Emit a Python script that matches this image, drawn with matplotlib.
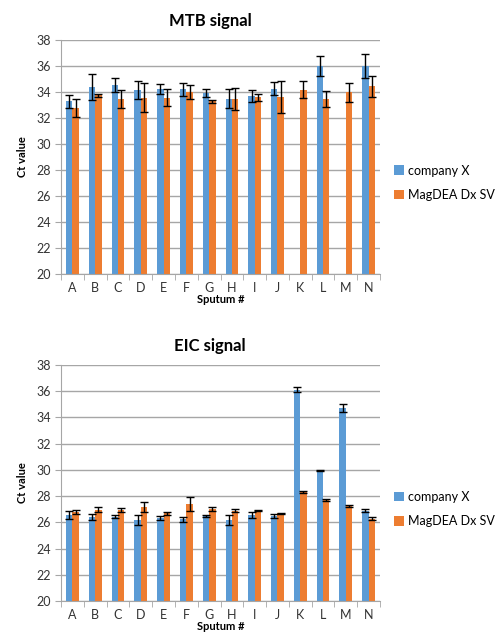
import numpy as np
import matplotlib.pyplot as plt

plt.rcParams['font.family'] = ['Lato', 'DejaVu Sans']

samples = ['A', 'B', 'C', 'D', 'E', 'F', 'G', 'H', 'I', 'J', 'K', 'L', 'M', 'N']
series = ['company X', 'MagDEA Dx SV']

### MTB signal (company X has no value for K and M)
mtb_x = [33.27, 34.38, 34.53, 34.15, 34.23, 34.23, 33.95, 33.5, 33.72, 34.25, np.nan, 36.0, np.nan, 36.0]
mtb_x_err = [0.5, 1.0, 0.55, 0.7, 0.38, 0.5, 0.3, 0.75, 0.47, 0.5, np.nan, 0.8, np.nan, 0.95]
mtb_mag = [32.76, 33.75, 33.47, 33.57, 33.55, 34.0, 33.29, 33.45, 33.6, 33.6, 34.18, 33.47, 33.97, 34.43]
mtb_mag_err = [0.7, 0.1, 0.7, 1.1, 0.65, 0.55, 0.1, 0.85, 0.28, 1.25, 0.65, 0.6, 0.72, 0.8]

### EIC signal
eic_x = [26.55, 26.4, 26.43, 26.15, 26.3, 26.23, 26.48, 26.15, 26.55, 26.45, 36.13, 29.95, 34.72, 26.88]
eic_x_err = [0.3, 0.2, 0.1, 0.38, 0.15, 0.2, 0.05, 0.38, 0.2, 0.15, 0.2, 0.05, 0.33, 0.1]
eic_mag = [26.78, 26.95, 26.95, 27.15, 26.68, 27.4, 27.05, 26.9, 26.9, 26.68, 28.3, 27.68, 27.25, 26.28]
eic_mag_err = [0.15, 0.2, 0.18, 0.4, 0.1, 0.5, 0.15, 0.1, 0.05, 0.05, 0.1, 0.08, 0.05, 0.1]

blue = '#5B9BD5'
orange = '#ED7D31'
grid = '#A6A6A6'

fig = plt.figure(figsize=(5.01, 6.41), dpi=100)
ax_top = fig.add_axes([0.1218, 0.5725, 0.6367, 0.3651])
ax_bot = fig.add_axes([0.1218, 0.0624, 0.6367, 0.3682])

x = np.arange(len(samples))
w = 0.28


def draw(ax, title, xv, xe, mv, me):
    ax.bar(x - w/2, xv, w, bottom=0, color=blue, label=series[0], zorder=2)
    ax.bar(x + w/2, mv, w, bottom=0, color=orange, label=series[1], zorder=2)
    ax.errorbar(x - w/2, xv, yerr=xe, fmt='none', ecolor='black', elinewidth=1, capsize=3, capthick=1, zorder=3)
    ax.errorbar(x + w/2, mv, yerr=me, fmt='none', ecolor='black', elinewidth=1, capsize=3, capthick=1, zorder=3)
    ax.set_ylim(20, 38)
    ax.set_xlim(-0.5, len(samples) - 0.5)
    ax.set_yticks(np.arange(20, 39, 2))
    ax.yaxis.grid(True, color=grid, linewidth=1)
    ax.set_axisbelow(True)
    ax.set_xticks(x)
    ax.set_xticklabels(samples)
    ax.set_xticks(np.arange(-0.5, len(samples), 1), minor=True)
    ax.tick_params(axis='x', which='major', length=0, pad=6, labelsize=9, colors='#333333')
    ax.tick_params(axis='x', which='minor', length=4, color=grid)
    ax.tick_params(axis='y', length=4, color=grid, labelsize=9, labelcolor='#333333')
    for s in ['top', 'right']:
        ax.spines[s].set_visible(False)
    ax.spines['left'].set_color(grid)
    ax.spines['bottom'].set_color(grid)
    ax.set_title(title, fontsize=12, fontweight='bold', pad=10, x=0.467)
    ax.set_ylabel('Ct value', fontsize=8, fontweight='bold', labelpad=6)
    ax.set_xlabel('Sputum #', fontsize=8, fontweight='bold', labelpad=0)
    ax.legend(loc='center left', bbox_to_anchor=(1.01, 0.39), frameon=False, fontsize=9,
              handlelength=0.8, handleheight=0.8, handletextpad=0.3, labelspacing=1.0)


draw(ax_top, 'MTB signal', mtb_x, mtb_x_err, mtb_mag, mtb_mag_err)
draw(ax_bot, 'EIC signal', eic_x, eic_x_err, eic_mag, eic_mag_err)

plt.savefig('out.png', dpi=100)
